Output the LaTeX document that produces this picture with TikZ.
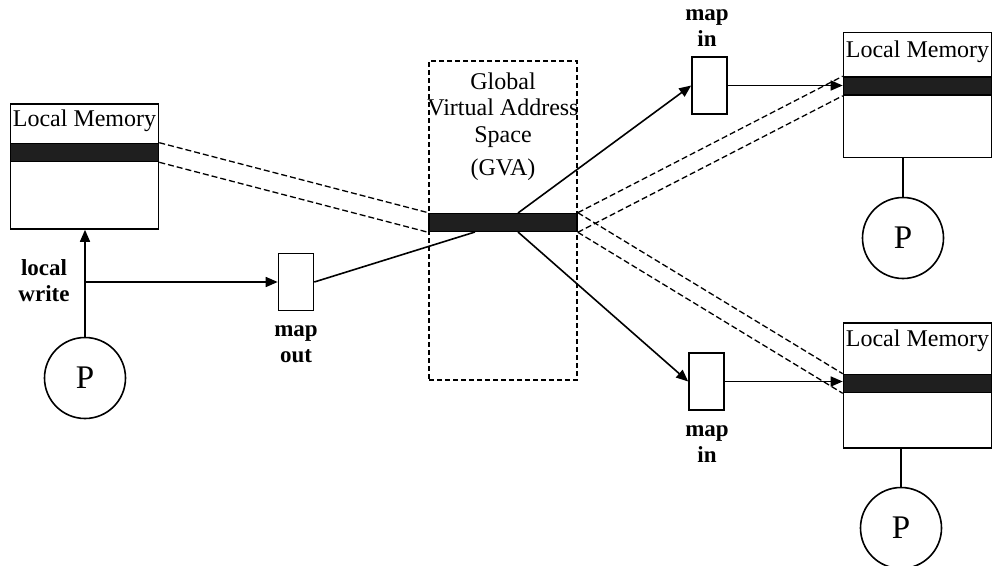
\documentclass[tikz,border=0pt]{standalone}
\usepackage{fontspec}
\setmainfont{Liberation Serif}
\usetikzlibrary{arrows.meta}
\tikzset{every path/.style={line width=1.6pt},
  mem/.style={draw, rectangle, line width=1.6pt, minimum width=148pt, minimum height=125pt, inner sep=0pt},
  bar/.style={draw, fill=black!88, rectangle, minimum width=148pt, minimum height=18pt, inner sep=0pt},
  mapbox/.style={draw, rectangle, line width=1.6pt, minimum width=35pt, minimum height=57pt, inner sep=0pt},
  proc/.style={draw, circle, line width=1.6pt, minimum size=81pt, inner sep=0pt, font=\fontsize{33}{33}\selectfont},
  tagtext/.style={align=center, inner sep=0pt, font=\fontsize{23}{26}\selectfont\bfseries},
  memtitle/.style={anchor=north, inner ysep=6pt, font=\fontsize{24}{26}\selectfont},
  gvabox/.style={draw, rectangle, line width=1.4pt, dash pattern=on 5pt off 3pt, minimum width=148pt, minimum height=319pt},
  arr/.style={-{Triangle[length=12pt,width=10pt]}},
  link/.style={dash pattern=on 6pt off 3pt, line width=1.3pt}}

\begin{document}
\begin{tikzpicture}[x=1pt,y=-1pt]
  \useasboundingbox (0,0) rectangle (993,565);
  \node[gvabox] (gva) at (503.0,220.5) {};
  \node[anchor=north, align=center, inner sep=0pt, font=\fontsize{24}{26.5}\selectfont] (gvat) at (503,72)
    {Global\\Virtual Address\\Space\\[7pt](GVA)};
  \node[mem] (lmL)  at ( 84.5,166.5) {};
  \node[mem] (lmR1) at (917.5, 95.0) {};
  \node[mem] (lmR2) at (917.5,385.5) {};
  \node[memtitle] (tL)  at (lmL.north)  {Local Memory};
  \node[memtitle, inner ysep=8pt] (tR1) at (lmR1.north) {Local Memory};
  \node[memtitle, inner ysep=7pt] (tR2) at (lmR2.north) {Local Memory};
  \node[bar] (barL)  at ( 84.5,152.5) {};
  \node[bar] (barG)  at (503.0,222.5) {};
  \node[bar] (barR1) at (917.5, 86.0) {};
  \node[bar] (barR2) at (917.5,383.5) {};
  \node[proc] (pL)  at ( 85,378) {P};
  \node[proc] (pR1) at (903,238) {P};
  \node[proc] (pR2) at (901,528) {P};
  \node[mapbox] (mapout) at (296.0,282.0) {};
  \node[mapbox] (mapin1) at (709.5, 85.5) {};
  \node[mapbox] (mapin2) at (706.5,381.5) {};
  \node[tagtext] (lw)  at ( 44,281) {local\\write};
  \node[tagtext] (mo)  at (296,344) {map\\out};
  \node[tagtext] (mi1) at (707, 28) {map\\in};
  \node[tagtext] (mi2) at (707,444) {map\\in};
  \coordinate (g1) at (475,232);
  \coordinate (g2) at (518,213);
  \coordinate (g3) at (518,232);
  \draw[arr] (pL) -- (pL |- lmL.south);
  \draw[arr] (pL |- mapout) -- (mapout);
  \draw (mapout.east) -- (g1);
  \draw[arr] (g2) -- (mapin1.west);
  \draw[arr] (g3) -- (mapin2.west);
  \draw[arr] (mapin1) -- (mapin1 -| lmR1.west);
  \draw[arr] (mapin2) -- (mapin2 -| lmR2.west);
  \draw (pR1) -- (pR1 |- lmR1.south);
  \draw (pR2) -- (pR2 |- lmR2.south);
  \draw[link] (barL.north east) -- (barG.north west);
  \draw[link] (barL.south east) -- (barG.south west);
  \draw[link] (barG.north east) -- (barR1.north west);
  \draw[link] (barG.south east) -- (barR1.south west);
  \draw[link] (barG.north east) -- (barR2.north west);
  \draw[link] (barG.south east) -- (barR2.south west);
\end{tikzpicture}
\end{document}
